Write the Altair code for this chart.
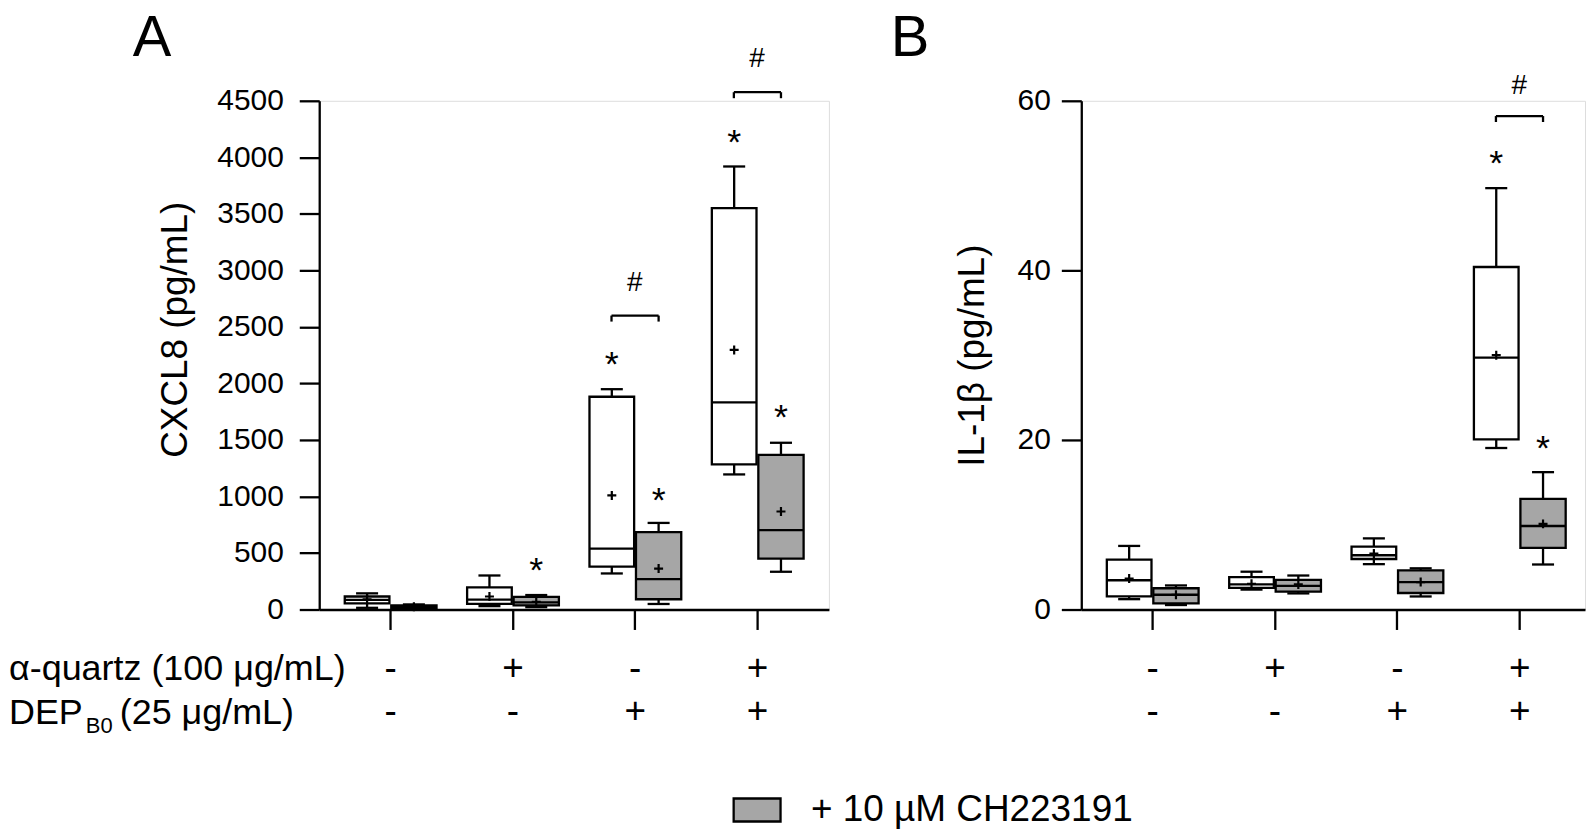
import json
import altair as alt
import pandas as pd

# ---------------- data ----------------
positions = [1, 2, 3, 4]
quartz_row = ["-", "+", "-", "+"]
dep_row = ["-", "-", "+", "+"]
CH_LABEL = "+ 10 µM CH223191"

# Panel A  CXCL8 (pg/mL): min, q1, median, q3, max, mean per group
a_ctrl_min = [15, 30, 319, 1195]
a_ctrl_q1 = [55, 49, 380, 1283]
a_ctrl_median = [85, 88, 538, 1833]
a_ctrl_q3 = [115, 195, 1882, 3551]
a_ctrl_max = [143, 301, 1949, 3919]
a_ctrl_mean = [91, 115, 1009, 2296]

a_ch_min = [6, 21, 49, 334]
a_ch_q1 = [9, 36, 91, 450]
a_ch_median = [24, 64, 268, 702]
a_ch_q3 = [36, 112, 684, 1368]
a_ch_max = [45, 128, 766, 1475]
a_ch_mean = [25, 67, 362, 867]

# Panel B  IL-1beta (pg/mL)
b_ctrl_min = [1.22, 2.35, 5.35, 19.05]
b_ctrl_q1 = [1.54, 2.55, 5.96, 20.07]
b_ctrl_median = [3.45, 2.96, 6.4, 29.7]
b_ctrl_q3 = [5.88, 3.81, 7.42, 40.4]
b_ctrl_max = [7.5, 4.46, 8.39, 49.7]
b_ctrl_mean = [3.65, 3.04, 6.6, 30.0]

b_ch_min = [0.53, 1.9, 1.54, 5.31]
b_ch_q1 = [0.73, 2.11, 1.95, 7.26]
b_ch_median = [1.74, 2.8, 3.24, 9.85]
b_ch_q3 = [2.51, 3.49, 4.62, 13.05]
b_ch_max = [2.84, 4.01, 4.86, 16.2]
b_ch_mean = [1.74, 2.96, 3.24, 10.1]

# significance annotations
a_star_pos = [2, 3, 3, 4, 4]
a_star_series = ["ch", "ctrl", "ch", "ctrl", "ch"]
a_star_y = [410, 2235, 1034, 4196, 1763]
a_hash_pos = [3, 4]
a_bracket_y = [2600, 4576]
a_hash_y = [2904, 4887]

b_star_pos = [4, 4]
b_star_series = ["ctrl", "ch"]
b_star_y = [53.5, 19.9]
b_hash_pos = [4]
b_bracket_y = [58.2]
b_hash_y = [62.0]

# ---------------- styling ----------------
FONT = "Liberation Sans"
GREY = "#a6a6a6"
LW = 2.3
PLUS = "M-1,0H1M0,-1V1"
RECT = "M-1,-0.49H1V0.49H-1Z"
X0 = 0.4212

LABEL_EXPR = json.dumps([[q, d] for q, d in zip(quartz_row, dep_row)]) + "[datum.value - 1]"

XL = "datum.series == 'ch' ? datum.pos + 0.01 : datum.pos - 0.37"
XR = "datum.series == 'ch' ? datum.pos + 0.38 : datum.pos - 0.005"
XC = "datum.series == 'ch' ? datum.pos + 0.195 : datum.pos - 0.1875"


def box_table(ctrl, ch):
    keys = ["min", "q1", "median", "q3", "max", "mean"]
    rows = []
    for series, stats in (("ctrl", ctrl), ("ch", ch)):
        for i, p in enumerate(positions):
            row = {"pos": p, "series": series,
                   "treatment": CH_LABEL if series == "ch" else "none"}
            for k, arr in zip(keys, stats):
                row[k] = arr[i]
            rows.append(row)
    return pd.DataFrame(rows)


legend = alt.Legend(
    title=None, orient="none", legendX=414, legendY=686,
    symbolType=RECT, symbolSize=2209, symbolStrokeColor="black",
    symbolStrokeWidth=LW, labelFont=FONT, labelFontSize=37,
    labelColor="black", labelOffset=29, labelLimit=0, padding=0,
)


def make_panel(boxes, stars, hashes, ymax, ystep, ytitle, letter, letter_dx,
               width, xmax, ylab_pad, title_pad, title_y, drop, extra=None):
    xs = alt.Scale(domain=[X0, xmax], nice=False, zero=False)
    ys = alt.Scale(domain=[0, ymax], nice=False, zero=False)
    xaxis = alt.Axis(
        values=positions, title=None, labelExpr=LABEL_EXPR, tickSize=20,
        tickWidth=LW, tickColor="black", domainColor="black", domainWidth=LW,
        labelFont=FONT, labelFontSize=37, labelColor="black",
        labelLineHeight=43, labelPadding=21, labelOverlap=False,
        labelFlush=False, grid=False, labelAngle=0,
    )
    ykw = dict(
        values=list(range(0, ymax + 1, ystep)), title=ytitle, tickSize=20,
        format="d",
        tickWidth=LW, tickColor="black", domainColor="black", domainWidth=LW,
        labelFont=FONT, labelFontSize=30, labelColor="black",
        labelPadding=ylab_pad, titleFont=FONT, titleFontSize=37,
        titleFontWeight="normal", titleColor="black", titlePadding=title_pad,
        grid=False,
    )
    if title_y is not None:
        ykw["titleY"] = title_y
    yaxis = alt.Axis(**ykw)

    def X(f):
        return alt.X(f, type="quantitative", scale=xs, axis=xaxis)

    def Y(f):
        return alt.Y(f, type="quantitative", scale=ys, axis=yaxis)

    base = alt.Chart(boxes).transform_calculate(xl=XL, xr=XR, xc=XC).transform_calculate(
        cl="datum.xc - 0.09", cr="datum.xc + 0.09")

    rule = dict(color="black", strokeWidth=LW)
    w_up = base.mark_rule(**rule).encode(x=X("xc"), y=Y("q3"), y2="max")
    w_lo = base.mark_rule(**rule).encode(x=X("xc"), y=Y("min"), y2="q1")
    cap_up = base.mark_rule(**rule).encode(x=X("cl"), x2="cr", y=Y("max"))
    cap_lo = base.mark_rule(**rule).encode(x=X("cl"), x2="cr", y=Y("min"))
    box_w = base.transform_filter("datum.series == 'ctrl'").mark_rect(
        fill="white", stroke="black", strokeWidth=LW).encode(
        x=X("xl"), x2="xr", y=Y("q1"), y2="q3")
    box_g = base.transform_filter("datum.series == 'ch'").mark_rect(
        stroke="black", strokeWidth=LW).encode(
        x=X("xl"), x2="xr", y=Y("q1"), y2="q3",
        fill=alt.Fill("treatment:N", scale=alt.Scale(domain=[CH_LABEL], range=[GREY]),
                      legend=legend))
    med = base.mark_rule(**rule).encode(x=X("xl"), x2="xr", y=Y("median"))
    mean = base.mark_point(shape=PLUS, size=81, filled=False, color="black",
                           strokeWidth=2.2, opacity=1).encode(x=X("xc"), y=Y("mean"))

    star = alt.Chart(stars).transform_calculate(xc=XC).mark_text(
        text="*", font=FONT, fontSize=36, color="black", baseline="middle",
        dy=8).encode(x=X("xc"), y=Y("y"))

    hb = alt.Chart(hashes).transform_calculate(
        bl="datum.pos - 0.19", br="datum.pos + 0.195",
        ylo="datum.by - " + str(drop))
    br_h = hb.mark_rule(**rule).encode(x=X("bl"), x2="br", y=Y("by"))
    br_l = hb.mark_rule(**rule).encode(x=X("bl"), y=Y("by"), y2="ylo")
    br_r = hb.mark_rule(**rule).encode(x=X("br"), y=Y("by"), y2="ylo")
    hash_t = hb.mark_text(text="#", font=FONT, fontSize=28, color="black",
                          baseline="middle", dy=2).encode(x=X("pos"), y=Y("hy"))

    let = alt.Chart(pd.DataFrame({"t": [letter]})).mark_text(
        align="left", baseline="alphabetic", font=FONT, fontSize=58,
        color="black").encode(text="t:N", x=alt.value(letter_dx), y=alt.value(-45))

    layers = [w_up, w_lo, cap_up, cap_lo, box_w, box_g, med, mean, star,
              br_h, br_l, br_r, hash_t, let]
    if extra:
        layers += extra
    return alt.layer(*layers).properties(width=width, height=510)


a_boxes = box_table(
    (a_ctrl_min, a_ctrl_q1, a_ctrl_median, a_ctrl_q3, a_ctrl_max, a_ctrl_mean),
    (a_ch_min, a_ch_q1, a_ch_median, a_ch_q3, a_ch_max, a_ch_mean))
b_boxes = box_table(
    (b_ctrl_min, b_ctrl_q1, b_ctrl_median, b_ctrl_q3, b_ctrl_max, b_ctrl_mean),
    (b_ch_min, b_ch_q1, b_ch_median, b_ch_q3, b_ch_max, b_ch_mean))
a_stars = pd.DataFrame({"pos": a_star_pos, "series": a_star_series, "y": a_star_y})
b_stars = pd.DataFrame({"pos": b_star_pos, "series": b_star_series, "y": b_star_y})
a_hash = pd.DataFrame({"pos": a_hash_pos, "by": a_bracket_y, "hy": a_hash_y})
b_hash = pd.DataFrame({"pos": b_hash_pos, "by": b_bracket_y, "hy": b_hash_y})

# row labels (left of panel A)
row_txt = dict(align="left", baseline="middle", font=FONT, color="black")
r1 = alt.Chart(pd.DataFrame({"t": ["α-quartz (100 μg/mL)"]})).mark_text(
    fontSize=36, **row_txt).encode(text="t:N", x=alt.value(-311), y=alt.value(570))
r2a = alt.Chart(pd.DataFrame({"t": ["DEP"]})).mark_text(
    fontSize=36, **row_txt).encode(text="t:N", x=alt.value(-311), y=alt.value(614))
r2b = alt.Chart(pd.DataFrame({"t": ["B0"]})).mark_text(
    fontSize=22, **row_txt).encode(text="t:N", x=alt.value(-234), y=alt.value(627))
r2c = alt.Chart(pd.DataFrame({"t": ["(25 μg/mL)"]})).mark_text(
    fontSize=36, **row_txt).encode(text="t:N", x=alt.value(-200), y=alt.value(614))

panel_a = make_panel(a_boxes, a_stars, a_hash, 4500, 500, "CXCL8 (pg/mL)", "A",
                     -187, 511, X0 + 511 / 122.67, 16, 22, 229, 53,
                     extra=[r1, r2a, r2b, r2c])
panel_b = make_panel(b_boxes, b_stars, b_hash, 60, 20, "IL-1β (pg/mL)", "B",
                     -191, 505, X0 + 505 / 122.67, 11, 26, None, 0.7)

chart = alt.hconcat(panel_a, panel_b, spacing=60).resolve_scale(
    fill="shared").resolve_legend(fill="shared").properties(
    padding=0).configure_view(stroke=None).configure(font=FONT)

chart.save("out.html", embed_options={"renderer": "svg", "actions": False})
